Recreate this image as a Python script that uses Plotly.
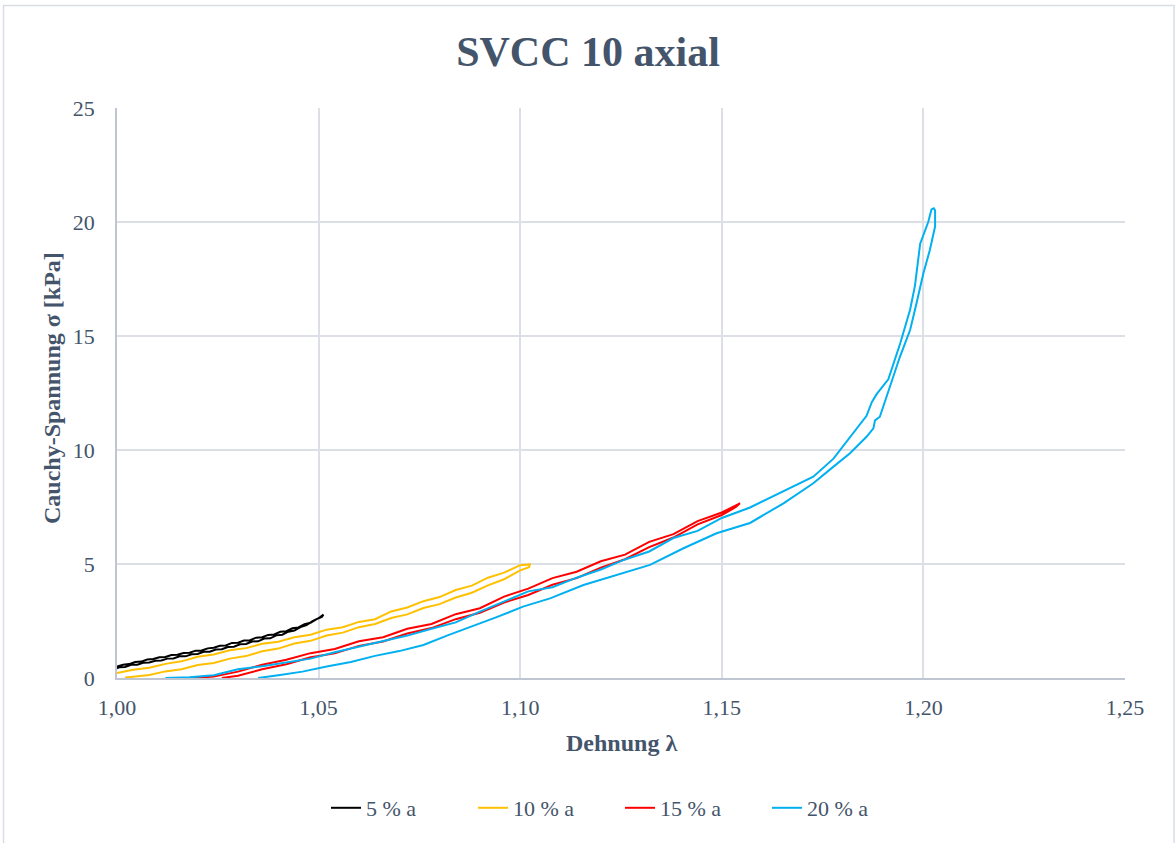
import plotly.graph_objects as go

# ---------------- data ----------------
series_names = ["5 % a", "10 % a", "15 % a", "20 % a"]
series_colors = ["#000000", "#FFC000", "#FF0000", "#00B0F0"]

# 5 % a : loading then unloading
lam_5 = [1.0000, 1.0015, 1.0030, 1.0045, 1.0060, 1.0075, 1.0090, 1.0105, 1.0120, 1.0135,
         1.0150, 1.0165, 1.0180, 1.0195, 1.0210, 1.0225, 1.0240, 1.0255, 1.0270, 1.0285,
         1.0300, 1.0315, 1.0330, 1.0345, 1.0360, 1.0375, 1.0390, 1.0405, 1.0420, 1.0435,
         1.0450, 1.0465, 1.0480, 1.0495, 1.0508, 1.0512,
         1.0500, 1.0485, 1.0470, 1.0455, 1.0440, 1.0425, 1.0410, 1.0395, 1.0380, 1.0365,
         1.0350, 1.0335, 1.0320, 1.0305, 1.0290, 1.0275, 1.0260, 1.0245, 1.0230, 1.0215,
         1.0200, 1.0185, 1.0170, 1.0155, 1.0140, 1.0125, 1.0110, 1.0095, 1.0080, 1.0065,
         1.0050, 1.0035, 1.0020, 1.0005, 1.0000]
sig_5 = [0.50, 0.58, 0.61, 0.70, 0.72, 0.81, 0.83, 0.91, 0.92, 1.01,
         1.02, 1.10, 1.11, 1.20, 1.21, 1.30, 1.33, 1.41, 1.43, 1.54,
         1.55, 1.64, 1.66, 1.77, 1.79, 1.89, 1.91, 2.03, 2.05, 2.18,
         2.22, 2.36, 2.42, 2.58, 2.68, 2.78,
         2.62, 2.49, 2.32, 2.23, 2.08, 2.03, 1.90, 1.87, 1.74, 1.73,
         1.61, 1.60, 1.49, 1.48, 1.37, 1.36, 1.26, 1.25, 1.15, 1.15,
         1.05, 1.04, 0.95, 0.95, 0.86, 0.85, 0.77, 0.76, 0.68, 0.67,
         0.58, 0.58, 0.48, 0.47, 0.42]

# 10 % a
lam_10 = [1.000, 1.004, 1.008, 1.012, 1.016, 1.020, 1.024, 1.028, 1.032, 1.036,
          1.040, 1.044, 1.048, 1.052, 1.056, 1.060, 1.064, 1.068, 1.072, 1.076,
          1.080, 1.084, 1.088, 1.092, 1.096, 1.100, 1.1024,
          1.1022, 1.100, 1.096, 1.092, 1.088, 1.084, 1.080, 1.076, 1.072, 1.068,
          1.064, 1.060, 1.056, 1.052, 1.048, 1.044, 1.040, 1.036, 1.032, 1.028,
          1.024, 1.020, 1.016, 1.012, 1.008, 1.004, 1.002]
sig_10 = [0.22, 0.36, 0.45, 0.62, 0.73, 0.93, 1.03, 1.22, 1.31, 1.50,
          1.59, 1.79, 1.90, 2.12, 2.23, 2.46, 2.58, 2.92, 3.09, 3.37,
          3.55, 3.86, 4.05, 4.40, 4.62, 4.95, 4.98,
          4.86, 4.72, 4.33, 4.06, 3.74, 3.53, 3.24, 3.07, 2.79, 2.63,
          2.37, 2.23, 1.99, 1.86, 1.63, 1.51, 1.29, 1.17, 0.96, 0.85,
          0.66, 0.57, 0.38, 0.29, 0.13, 0.06, 0.02]

# 15 % a
lam_15 = [1.018, 1.024, 1.030, 1.036, 1.042, 1.048, 1.054, 1.060, 1.066, 1.072,
          1.078, 1.084, 1.090, 1.096, 1.102, 1.108, 1.114, 1.120, 1.126, 1.132,
          1.138, 1.144, 1.150, 1.1545,
          1.1535, 1.150, 1.144, 1.138, 1.132, 1.126, 1.120, 1.114, 1.108, 1.102,
          1.096, 1.090, 1.084, 1.078, 1.072, 1.066, 1.060, 1.054, 1.048, 1.042,
          1.036, 1.030, 1.026]
sig_15 = [0.00, 0.06, 0.28, 0.58, 0.80, 1.09, 1.27, 1.61, 1.79, 2.16,
          2.37, 2.80, 3.06, 3.57, 3.92, 4.38, 4.66, 5.12, 5.41, 5.97,
          6.31, 6.88, 7.26, 7.66,
          7.50, 7.15, 6.74, 6.16, 5.74, 5.21, 4.84, 4.38, 4.09, 3.64,
          3.31, 2.86, 2.58, 2.19, 1.95, 1.60, 1.41, 1.08, 0.91, 0.60,
          0.38, 0.10, 0.00]

# 20 % a
lam_20 = [1.012, 1.018, 1.024, 1.030, 1.036, 1.042, 1.048, 1.054, 1.060, 1.066,
          1.072, 1.078, 1.084, 1.090, 1.096, 1.102, 1.108, 1.114, 1.120, 1.126,
          1.132, 1.138, 1.144, 1.150, 1.157, 1.1653, 1.1727, 1.1777, 1.1818, 1.1859,
          1.1872, 1.1884, 1.1913, 1.1942, 1.1967, 1.1979, 1.1992, 1.2012, 1.2020, 1.2026,
          1.2029, 1.2029, 1.2016, 1.2000, 1.1979, 1.1967, 1.1942, 1.1917, 1.1892, 1.1880,
          1.1876, 1.1859, 1.1818, 1.1777, 1.1727, 1.1653, 1.1570, 1.1487, 1.1405, 1.1322,
          1.1239, 1.1157, 1.1074, 1.1007, 1.0940, 1.0880, 1.0820, 1.0760, 1.0700, 1.0640,
          1.0580, 1.0520, 1.0460, 1.0400, 1.0350]
sig_20 = [0.00, 0.03, 0.12, 0.38, 0.52, 0.70, 0.85, 1.13, 1.37, 1.64,
          1.86, 2.16, 2.44, 2.91, 3.35, 3.80, 3.98, 4.40, 4.76, 5.20,
          5.55, 6.14, 6.45, 7.02, 7.48, 8.20, 8.83, 9.62, 10.55, 11.50,
          12.10, 12.45, 13.10, 14.65, 16.15, 17.20, 19.05, 20.00, 20.55, 20.60,
          20.50, 19.80, 18.77, 17.75, 16.14, 15.26, 14.10, 12.79, 11.46, 11.30,
          10.95, 10.58, 9.86, 9.27, 8.54, 7.66, 6.80, 6.35, 5.69, 4.96,
          4.52, 4.08, 3.49, 3.13, 2.66, 2.27, 1.87, 1.45, 1.18, 0.97,
          0.70, 0.50, 0.28, 0.12, 0.00]

x_ticks = [1.00, 1.05, 1.10, 1.15, 1.20, 1.25]
y_ticks = [0, 5, 10, 15, 20, 25]

title_text = "SVCC 10 axial"
x_title = "Dehnung λ"
y_title = "Cauchy-Spannung σ [kPa]"

# ---------------- figure ----------------
TXT = "#44546A"
FONT = "Liberation Serif"

fig = go.Figure()
for name, col, lx, sy in zip(series_names, series_colors,
                             [lam_5, lam_10, lam_15, lam_20],
                             [sig_5, sig_10, sig_15, sig_20]):
    fig.add_trace(go.Scatter(x=lx, y=sy, mode="lines", name=name,
                             line=dict(color=col, width=2)))

W, H = 1176, 843
L, R, T, B = 117, 51, 108, 165
pw, ph = W - L - R, H - T - B

def px_x(p):
    return (p - L) / pw

def px_y(p):
    return (H - B - p) / ph

fig.update_layout(
    width=W, height=H,
    margin=dict(l=L, r=R, t=T, b=B, autoexpand=False),
    paper_bgcolor="white", plot_bgcolor="white",
    separators=", ",
    font=dict(family=FONT, color=TXT, size=22),
    title=dict(text="<b>" + title_text + "</b>", x=0.5, xanchor="center",
               xref="container", y=1 - 51 / H, yanchor="middle", yref="container",
               font=dict(family=FONT, size=42, color=TXT)),
    xaxis=dict(range=[1.0, 1.25], tickvals=x_ticks, tickformat=".2f",
               showgrid=True, gridcolor="#DCE0E6", gridwidth=1.5,
               showline=True, linecolor="#BFC6D1", linewidth=1.5,
               zeroline=False, ticks="", ticklabelstandoff=9,
               tickfont=dict(family=FONT, size=22, color=TXT)),
    yaxis=dict(range=[0, 25], tickvals=y_ticks,
               showgrid=True, gridcolor="#DCE0E6", gridwidth=1.5,
               showline=True, linecolor="#BFC6D1", linewidth=1.5,
               zeroline=False, ticks="", ticklabelstandoff=16,
               tickfont=dict(family=FONT, size=22, color=TXT)),
    legend=dict(orientation="h", x=px_x(326), xanchor="left",
                y=px_y(808), yanchor="middle",
                entrywidth=102, entrywidthmode="pixels",
                font=dict(family=FONT, size=22, color=TXT),
                bgcolor="rgba(0,0,0,0)"),
    showlegend=True,
)

fig.add_annotation(text="<b>" + x_title + "</b>", xref="paper", yref="paper",
                   x=px_x(621), y=px_y(743), xanchor="center", yanchor="middle",
                   showarrow=False, font=dict(family=FONT, size=24, color=TXT))
fig.add_annotation(text="<b>" + y_title + "</b>", xref="paper", yref="paper",
                   x=px_x(52), y=px_y(388), xanchor="center", yanchor="middle",
                   textangle=-90, showarrow=False,
                   font=dict(family=FONT, size=24, color=TXT))

# chart-area border
fig.add_shape(type="rect", xref="paper", yref="paper",
              x0=px_x(3.5), x1=px_x(1174), y0=px_y(850), y1=px_y(5.5),
              line=dict(color="#D9DDE3", width=1.5), fillcolor="rgba(0,0,0,0)",
              layer="below")

fig.write_html("out.html",
               config={"displayModeBar": False},
               post_script="document.body.style.margin='0';document.body.style.overflow='hidden';")
